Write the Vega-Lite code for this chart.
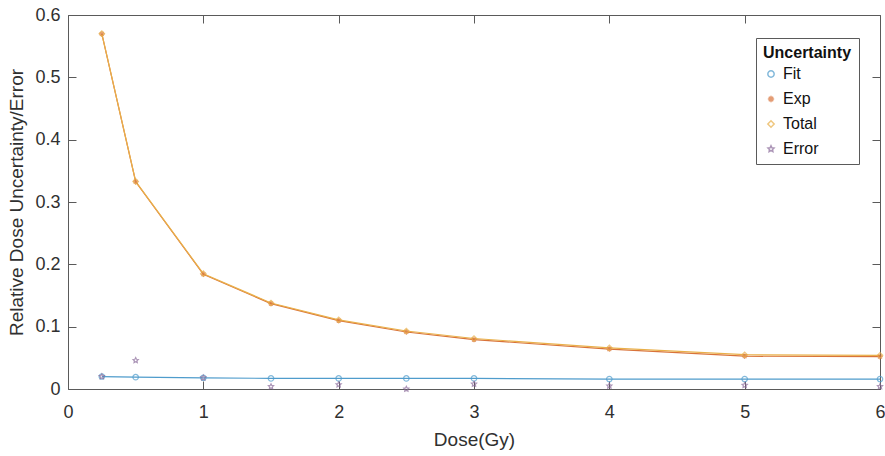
{
  "$schema": "https://vega.github.io/schema/vega-lite/v6.json",
  "width": 812,
  "height": 374,
  "autosize": {"type": "none"},
  "padding": {"left": 68, "top": 15, "right": 5, "bottom": 67},
  "background": "white",
  "config": {
    "view": {"stroke": "#5a5a5a", "strokeWidth": 1},
    "font": "Liberation Sans",
    "axis": {
      "labelFont": "Liberation Sans",
      "titleFont": "Liberation Sans",
      "labelColor": "#303030",
      "titleColor": "#303030",
      "domainColor": "#5a5a5a",
      "tickColor": "#5a5a5a",
      "grid": false,
      "labelFlush": false,
      "labelFontSize": 18,
      "titleFontSize": 19,
      "titleFontWeight": "normal"
    }
  },
  "data": {
    "values": [
      {"Dose": 0.25, "Series": "Fit", "Value": 0.020},
      {"Dose": 0.5, "Series": "Fit", "Value": 0.019},
      {"Dose": 1, "Series": "Fit", "Value": 0.018},
      {"Dose": 1.5, "Series": "Fit", "Value": 0.017},
      {"Dose": 2, "Series": "Fit", "Value": 0.017},
      {"Dose": 2.5, "Series": "Fit", "Value": 0.017},
      {"Dose": 3, "Series": "Fit", "Value": 0.017},
      {"Dose": 4, "Series": "Fit", "Value": 0.016},
      {"Dose": 5, "Series": "Fit", "Value": 0.016},
      {"Dose": 6, "Series": "Fit", "Value": 0.016},
      {"Dose": 0.25, "Series": "Exp", "Value": 0.5696},
      {"Dose": 0.5, "Series": "Exp", "Value": 0.3325},
      {"Dose": 1, "Series": "Exp", "Value": 0.1841},
      {"Dose": 1.5, "Series": "Exp", "Value": 0.137},
      {"Dose": 2, "Series": "Exp", "Value": 0.1097},
      {"Dose": 2.5, "Series": "Exp", "Value": 0.0914},
      {"Dose": 3, "Series": "Exp", "Value": 0.0792},
      {"Dose": 4, "Series": "Exp", "Value": 0.064},
      {"Dose": 5, "Series": "Exp", "Value": 0.0526},
      {"Dose": 6, "Series": "Exp", "Value": 0.0519},
      {"Dose": 0.25, "Series": "Total", "Value": 0.570},
      {"Dose": 0.5, "Series": "Total", "Value": 0.333},
      {"Dose": 1, "Series": "Total", "Value": 0.185},
      {"Dose": 1.5, "Series": "Total", "Value": 0.138},
      {"Dose": 2, "Series": "Total", "Value": 0.111},
      {"Dose": 2.5, "Series": "Total", "Value": 0.093},
      {"Dose": 3, "Series": "Total", "Value": 0.081},
      {"Dose": 4, "Series": "Total", "Value": 0.066},
      {"Dose": 5, "Series": "Total", "Value": 0.055},
      {"Dose": 6, "Series": "Total", "Value": 0.054},
      {"Dose": 0.25, "Series": "Error", "Value": 0.020},
      {"Dose": 0.5, "Series": "Error", "Value": 0.046},
      {"Dose": 1, "Series": "Error", "Value": 0.018},
      {"Dose": 1.5, "Series": "Error", "Value": 0.004},
      {"Dose": 2, "Series": "Error", "Value": 0.007},
      {"Dose": 2.5, "Series": "Error", "Value": 0.0},
      {"Dose": 3, "Series": "Error", "Value": 0.008},
      {"Dose": 4, "Series": "Error", "Value": 0.005},
      {"Dose": 5, "Series": "Error", "Value": 0.006},
      {"Dose": 6, "Series": "Error", "Value": 0.004}
    ]
  },
  "resolve": {"axis": {"x": "independent", "y": "independent"}},
  "layer": [
    {
      "transform": [{"filter": "datum.Series !== 'Error'"}],
      "mark": {"type": "line", "strokeWidth": 1.2},
      "encoding": {
        "x": {"field": "Dose", "type": "quantitative", "scale": {"domain": [0, 6], "nice": false},
              "axis": {"title": "Dose(Gy)", "values": [0,1,2,3,4,5,6], "format": "d", "tickSize": -8, "labelPadding": 22, "titlePadding": 9, "domain": false}},
        "y": {"field": "Value", "type": "quantitative", "scale": {"domain": [0, 0.6], "nice": false},
              "axis": {"title": "Relative Dose Uncertainty/Error", "values": [0,0.1,0.2,0.3,0.4,0.5,0.6], "format": "~g", "tickSize": -8, "labelPadding": 16, "titlePadding": 8, "domain": false}},
        "color": {"field": "Series", "type": "nominal",
                  "scale": {"domain": ["Fit", "Exp", "Total", "Error"], "range": ["#4f9ccc", "#d9733a", "#e9b04a", "#8a6a9a"]}},
        "order": {"field": "Series"}
      }
    },
    {
      "mark": {"type": "point", "strokeWidth": 1.2},
      "encoding": {
        "x": {"field": "Dose", "type": "quantitative", "axis": null},
        "y": {"field": "Value", "type": "quantitative", "axis": null},
        "color": {"field": "Series", "type": "nominal",
                  "scale": {"domain": ["Fit", "Exp", "Total", "Error"], "range": ["#4f9ccc", "#d9733a", "#e9b04a", "#8a6a9a"]},
                  "legend": {
                    "title": "Uncertainty", "orient": "none", "legendX": 688, "legendY": 23,
                    "strokeColor": "#5a5a5a", "fillColor": "white", "padding": 7,
                    "titleFontSize": 16, "titleFontWeight": "bold", "titleColor": "#111",
                    "labelFontSize": 16, "labelColor": "#111", "rowPadding": 9, "symbolSize": 40, "labelFont": "Liberation Sans", "titleFont": "Liberation Sans"
                  }},
        "shape": {"field": "Series", "type": "nominal",
                  "scale": {"domain": ["Fit", "Exp", "Total", "Error"],
                            "range": ["circle", "M-1,0L1,0M0,-1L0,1M-0.7,-0.7L0.7,0.7M-0.7,0.7L0.7,-0.7", "diamond", "M0,-1L0.29,-0.4L0.95,-0.31L0.48,0.15L0.59,0.81L0,0.5L-0.59,0.81L-0.48,0.15L-0.95,-0.31L-0.29,-0.4Z"]},
                  "legend": {
                    "title": "Uncertainty", "orient": "none", "legendX": 688, "legendY": 23,
                    "strokeColor": "#5a5a5a", "fillColor": "white", "padding": 7,
                    "titleFontSize": 16, "titleFontWeight": "bold", "titleColor": "#111",
                    "labelFontSize": 16, "labelColor": "#111", "rowPadding": 9, "symbolSize": 40, "labelFont": "Liberation Sans", "titleFont": "Liberation Sans"
                  }},
        "size": {"value": 30}
      }
    },
    {
      "mark": {"type": "point", "opacity": 0},
      "encoding": {
        "x": {"field": "Dose", "type": "quantitative",
              "axis": {"orient": "top", "title": null, "labels": false, "values": [0,1,2,3,4,5,6], "tickSize": -8, "domain": false}},
        "y": {"field": "Value", "type": "quantitative",
              "axis": {"orient": "right", "title": null, "labels": false, "values": [0,0.1,0.2,0.3,0.4,0.5,0.6], "tickSize": -8, "domain": false}}
      }
    }
  ]
}
